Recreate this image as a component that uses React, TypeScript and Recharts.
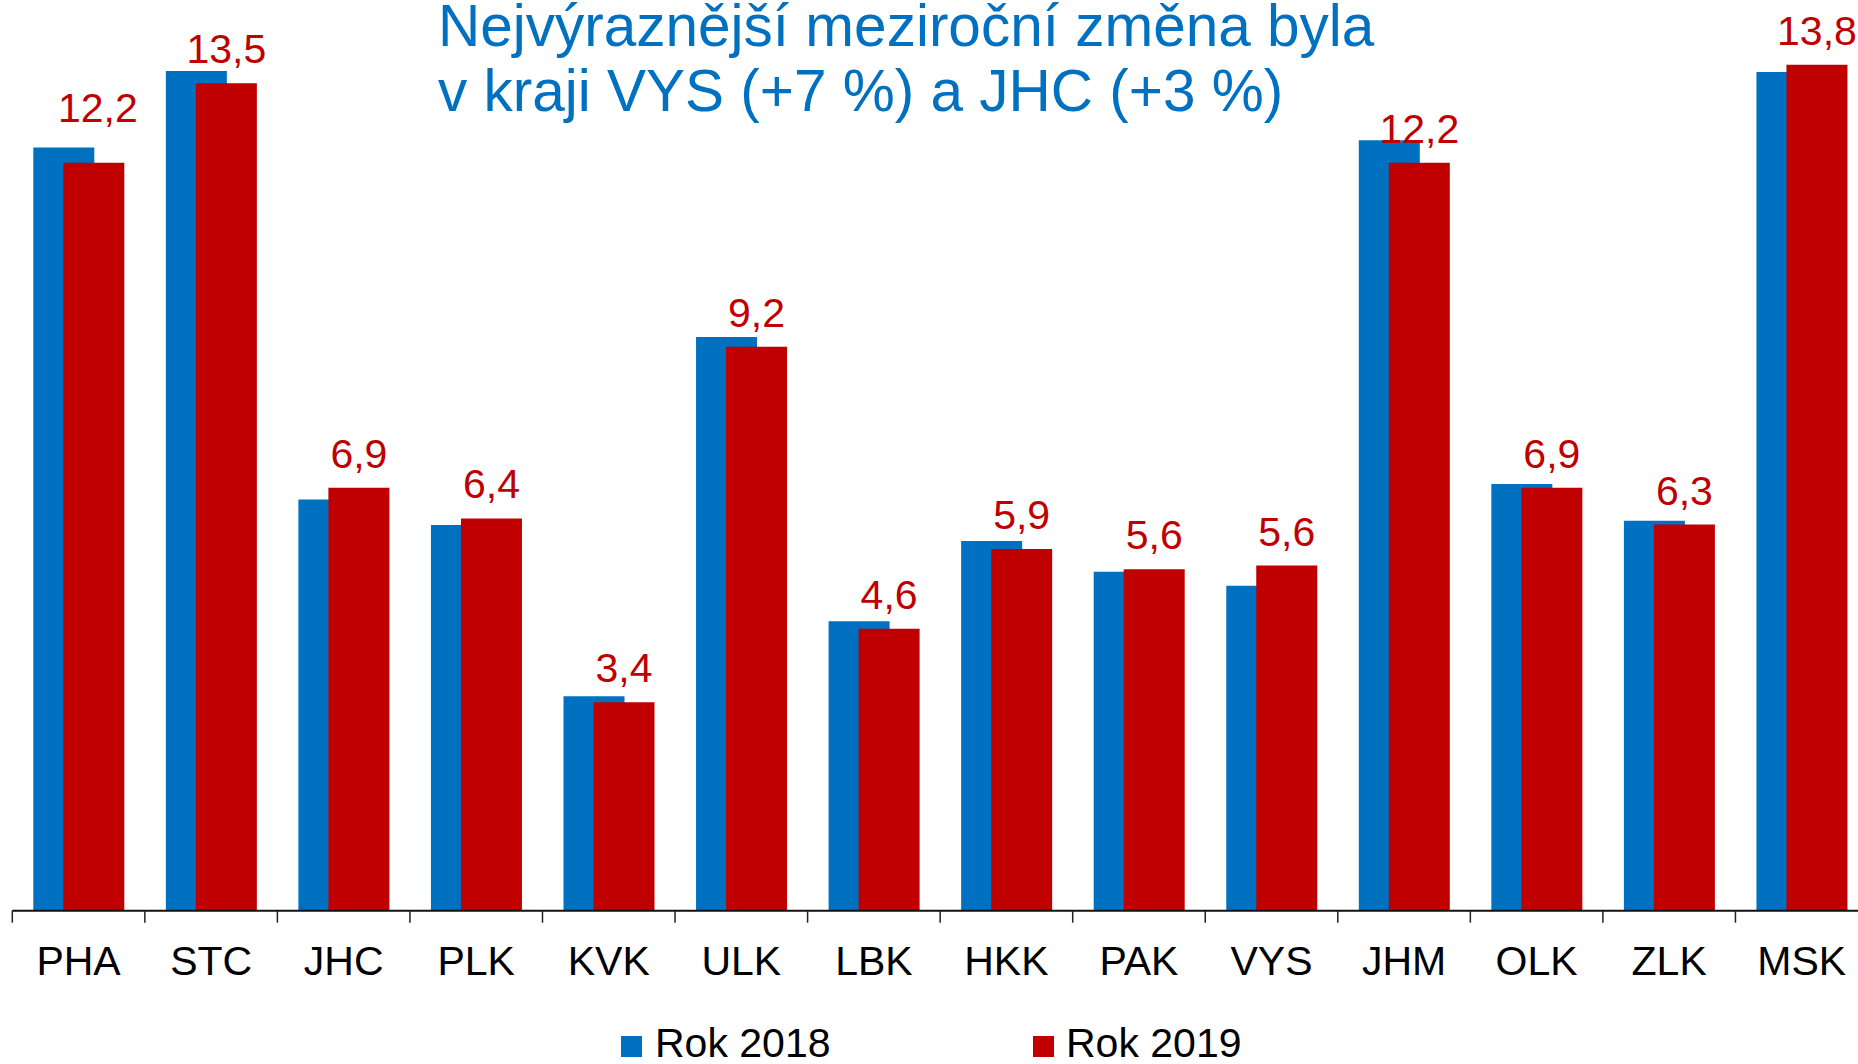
import { BarChart, Bar, XAxis, YAxis, LabelList } from "recharts";

const regions = ["PHA", "STC", "JHC", "PLK", "KVK", "ULK", "LBK", "HKK", "PAK", "VYS", "JHM", "OLK", "ZLK", "MSK"];
const rok2018 = [12.45, 13.7, 6.71, 6.29, 3.5, 9.36, 4.72, 6.03, 5.53, 5.3, 12.57, 6.96, 6.36, 13.68];
const rok2019 = [12.2, 13.5, 6.9, 6.4, 3.4, 9.2, 4.6, 5.9, 5.57, 5.63, 12.2, 6.9, 6.3, 13.8];
const seriesNames = ["Rok 2018", "Rok 2019"];
const titleLines = ["Nejvýraznější meziroční změna byla", "v kraji VYS (+7 %) a JHC (+3 %)"];

const data = regions.map((r, i) => ({ region: r, r2018: rok2018[i], r2019: rok2019[i] }));

const BLUE = "#0070C0";
const RED = "#C00000";
const FONT = "Arial, 'Liberation Sans', sans-serif";

const CHART_W = 1868;
const CHART_H = 1000;
const MARGIN = { top: 52.5, right: 0, bottom: 0, left: 12.3 };
const BAND = (CHART_W - MARGIN.left - MARGIN.right) / regions.length;

// label of PHA was moved up by hand in the original
const LIFTED = "PHA";

const fmt = (v: number) => v.toFixed(1).replace(".", ",");

const RegionTick = (props: any) => {
  const { x, y, payload, index } = props;
  const left = x - BAND / 2;
  return (
    <g>
      <line x1={left} y1={y} x2={left} y2={y + 12} stroke="#222" strokeWidth={1.5} />
      {index === regions.length - 1 && (
        <line x1={x + BAND / 2} y1={y} x2={x + BAND / 2} y2={y + 12} stroke="#222" strokeWidth={1.5} />
      )}
      <text x={x} y={y + 64} textAnchor="middle" fontSize={41} fontFamily={FONT} fill="#000">
        {payload.value}
      </text>
    </g>
  );
};

const ValueLabel = (props: any) => {
  const { x, y, width, value, index } = props;
  const lifted = regions[index] === LIFTED;
  return (
    <text
      x={x + width / 2 + (lifted ? 4 : 0)}
      y={y - 20 - (lifted ? 21 : 0)}
      textAnchor="middle"
      fontSize={41}
      fontFamily={FONT}
      fill={RED}
    >
      {fmt(value)}
    </text>
  );
};

export default function App() {
  return (
    <div style={{ position: "absolute", left: 0, top: 0, width: 1858, height: 1064, overflow: "hidden", background: "#fff" }}>
      <BarChart width={CHART_W} height={CHART_H} data={data} margin={MARGIN} barSize={61} barGap={-31}>
        <XAxis
          dataKey="region"
          height={CHART_H - 910.7}
          axisLine={{ stroke: "#111", strokeWidth: 2 }}
          tickLine={false}
          tickSize={0}
          tickMargin={0}
          interval={0}
          tick={<RegionTick />}
        />
        <YAxis hide domain={[0, 14]} />
        <Bar dataKey="r2018" fill={BLUE} isAnimationActive={false} />
        <Bar dataKey="r2019" fill={RED} isAnimationActive={false}>
          <LabelList dataKey="r2019" content={<ValueLabel />} />
        </Bar>
      </BarChart>
      <svg width={1858} height={1064} style={{ position: "absolute", left: 0, top: 0, pointerEvents: "none" }}>
        {titleLines.map((t, i) => (
          <text key={t} x={438} y={46 + i * 65} fontSize={58.5} fontFamily={FONT} fill={BLUE}>
            {t}
          </text>
        ))}
        {seriesNames.map((name, i) => (
          <g key={name}>
            <rect x={621 + i * 412} y={1036} width={21} height={21} fill={i === 0 ? BLUE : RED} />
            <text x={655 + i * 411} y={1057} fontSize={41} fontFamily={FONT} fill="#000">
              {name}
            </text>
          </g>
        ))}
      </svg>
    </div>
  );
}
